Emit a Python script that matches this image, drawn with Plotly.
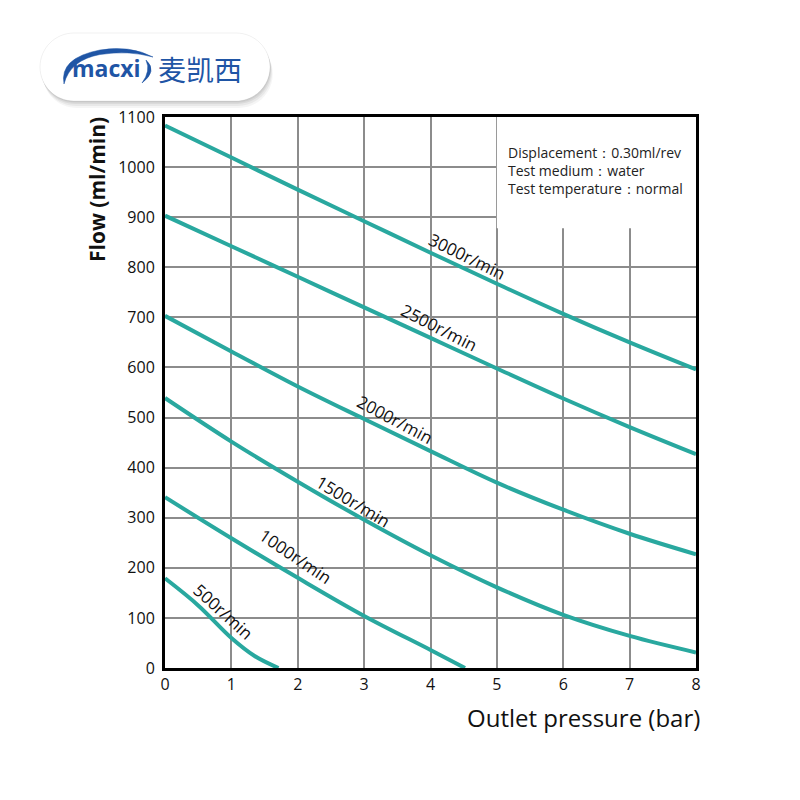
import plotly.graph_objects as go

# ---------------- data ----------------
pressure = [0, 1, 2, 3, 4, 5, 6, 7, 8]
flow_3000 = [1083, 1019, 955, 892, 829, 767, 707, 650, 596]
flow_2500 = [903, 842, 781, 720, 659, 598, 538, 481, 427]
flow_2000 = [703, 632, 562, 497, 433, 370, 316, 268, 227]
flow_1500 = [539, 452, 372, 296, 225, 161, 106, 64, 31]
pressure_1000 = [0, 1, 2, 3, 4, 4.52]
flow_1000 = [341, 259, 180, 104, 36, 0]
pressure_500 = [0, 0.5, 1, 1.35, 1.71]
flow_500 = [179, 125, 60, 24, 0]

speed_labels = ["3000r/min", "2500r/min", "2000r/min", "1500r/min", "1000r/min", "500r/min"]
label_x = [4.56, 4.13, 3.47, 2.84, 1.97, 0.88]
label_y = [822, 680, 497, 333, 222, 113]
label_angle = [26, 27, 28, 31, 34, 42]

x_ticks = [0, 1, 2, 3, 4, 5, 6, 7, 8]
y_ticks = list(range(0, 1101, 100))

info_lines = ["Displacement：0.30ml/rev", "Test medium：water", "Test temperature：normal"]

# ---------------- figure ----------------
TEAL = "#29A89F"
FONT = "Open Sans"

fig = go.Figure()
series = [
    (pressure, flow_3000),
    (pressure, flow_2500),
    (pressure, flow_2000),
    (pressure, flow_1500),
    (pressure_1000, flow_1000),
    (pressure_500, flow_500),
]
for (xs, ys), name in zip(series, speed_labels):
    fig.add_trace(go.Scatter(
        x=xs, y=ys, mode="lines", name=name,
        line=dict(color=TEAL, width=4, shape="spline", smoothing=1.0),
        showlegend=False, hoverinfo="skip",
    ))

for t, lx, ly, ang in zip(speed_labels, label_x, label_y, label_angle):
    fig.add_annotation(x=lx, y=ly, text=t, showarrow=False, textangle=ang,
                       xanchor="center", yanchor="middle",
                       font=dict(family=FONT, size=17, color="#111"))

# white box hiding the grid behind the test info
fig.add_shape(type="rect", xref="x", yref="y", x0=5, x1=8, y0=878, y1=1100,
              fillcolor="white", line=dict(width=0), layer="between")

fig.add_annotation(x=5.13, y=994, xanchor="left", yanchor="middle", align="left",
                   text="<br>".join(info_lines), showarrow=False,
                   font=dict(family=FONT, size=14, color="#222"))

# ---------------- helpers: page pixel -> paper ----------------
def PX(px):
    return (px - 165) / 531.0

def PY(py):
    return (668 - py) / 551.0

# axis titles
fig.add_annotation(xref="paper", yref="paper", x=PX(97), y=PY(190), text="<b>Flow (ml/min)</b>",
                   textangle=-90, showarrow=False, xanchor="center", yanchor="middle",
                   font=dict(family=FONT, size=21, color="#111"))
fig.add_annotation(xref="paper", yref="paper", x=PX(583), y=PY(717), text="Outlet pressure (bar)",
                   showarrow=False, xanchor="center", yanchor="middle",
                   font=dict(family=FONT, size=24, color="#111"))

# ---------------- logo ----------------
def pill(x0, y0, x1, y1):
    r = (y1 - y0) / 2.0
    k = 0.5523 * r
    pts = [
        f"M {PX(x0 + r)} {PY(y0)}",
        f"L {PX(x1 - r)} {PY(y0)}",
        f"C {PX(x1 - r + k)} {PY(y0)} {PX(x1)} {PY(y0 + r - k)} {PX(x1)} {PY(y0 + r)}",
        f"C {PX(x1)} {PY(y1 - r + k)} {PX(x1 - r + k)} {PY(y1)} {PX(x1 - r)} {PY(y1)}",
        f"L {PX(x0 + r)} {PY(y1)}",
        f"C {PX(x0 + r - k)} {PY(y1)} {PX(x0)} {PY(y1 - r + k)} {PX(x0)} {PY(y0 + r)}",
        f"C {PX(x0)} {PY(y0 + r - k)} {PX(x0 + r - k)} {PY(y0)} {PX(x0 + r)} {PY(y0)}",
        "Z",
    ]
    return " ".join(pts)

for off, col in [(7, "rgba(0,0,0,0.04)"), (5, "rgba(0,0,0,0.05)"), (3, "rgba(0,0,0,0.06)"),
                 (1.5, "rgba(0,0,0,0.06)")]:
    fig.add_shape(type="path", xref="paper", yref="paper",
                  path=pill(40 + off * 0.4, 33 + off, 270 + off * 0.4, 101 + off),
                  fillcolor=col, line=dict(width=0), layer="above")
fig.add_shape(type="path", xref="paper", yref="paper", path=pill(40, 33, 270, 101),
              fillcolor="white", line=dict(color="rgba(0,0,0,0.06)", width=1), layer="above")

BLUE = "#1F55A5"
swoosh = (f"M {PX(64)} {PY(84)} Q {PX(59)} {PY(58)} {PX(100)} {PY(50)} "
          f"Q {PX(130)} {PY(45)} {PX(153)} {PY(57)} "
          f"Q {PX(128)} {PY(50)} {PX(100)} {PY(54.5)} "
          f"Q {PX(70)} {PY(60)} {PX(64)} {PY(84)} Z")
fig.add_shape(type="path", xref="paper", yref="paper", path=swoosh,
              fillcolor=BLUE, line=dict(color=BLUE, width=0.5), layer="above")
swoosh2 = (f"M {PX(146)} {PY(60)} Q {PX(158)} {PY(71)} {PX(142)} {PY(83)} "
           f"Q {PX(151)} {PY(71)} {PX(146)} {PY(60)} Z")
fig.add_shape(type="path", xref="paper", yref="paper", path=swoosh2,
              fillcolor=BLUE, line=dict(color=BLUE, width=0.5), layer="above")

fig.add_annotation(xref="paper", yref="paper", x=PX(106), y=PY(68), text="<b>macxi</b>",
                   showarrow=False, xanchor="center", yanchor="middle",
                   font=dict(family="Open Sans", size=23, color=BLUE))
fig.add_annotation(xref="paper", yref="paper", x=PX(200), y=PY(69), text="麦凯西",
                   showarrow=False, xanchor="center", yanchor="middle",
                   font=dict(family="Noto Sans CJK SC", size=28, color=BLUE))

fig.update_layout(
    width=800, height=800,
    margin=dict(l=157, r=112, t=109, b=140),
    paper_bgcolor="white", plot_bgcolor="white",
    font=dict(family=FONT, color="#111"),
)
fig.update_xaxes(range=[0, 8], tickvals=x_ticks, ticktext=[str(v) for v in x_ticks],
                 showgrid=True, gridcolor="#8c8c8c", gridwidth=1.5,
                 showline=True, linecolor="black", linewidth=3, mirror=True,
                 zeroline=False, ticks="", tickfont=dict(size=16, color="#111"), fixedrange=True)
fig.update_yaxes(range=[0, 1100], tickvals=y_ticks, ticktext=[str(v) for v in y_ticks],
                 showgrid=True, gridcolor="#8c8c8c", gridwidth=1.5,
                 showline=True, linecolor="black", linewidth=3, mirror=True,
                 zeroline=False, ticks="", tickfont=dict(size=16, color="#111"),
                 ticklabelstandoff=4, fixedrange=True)

fig.write_html("out.html")
